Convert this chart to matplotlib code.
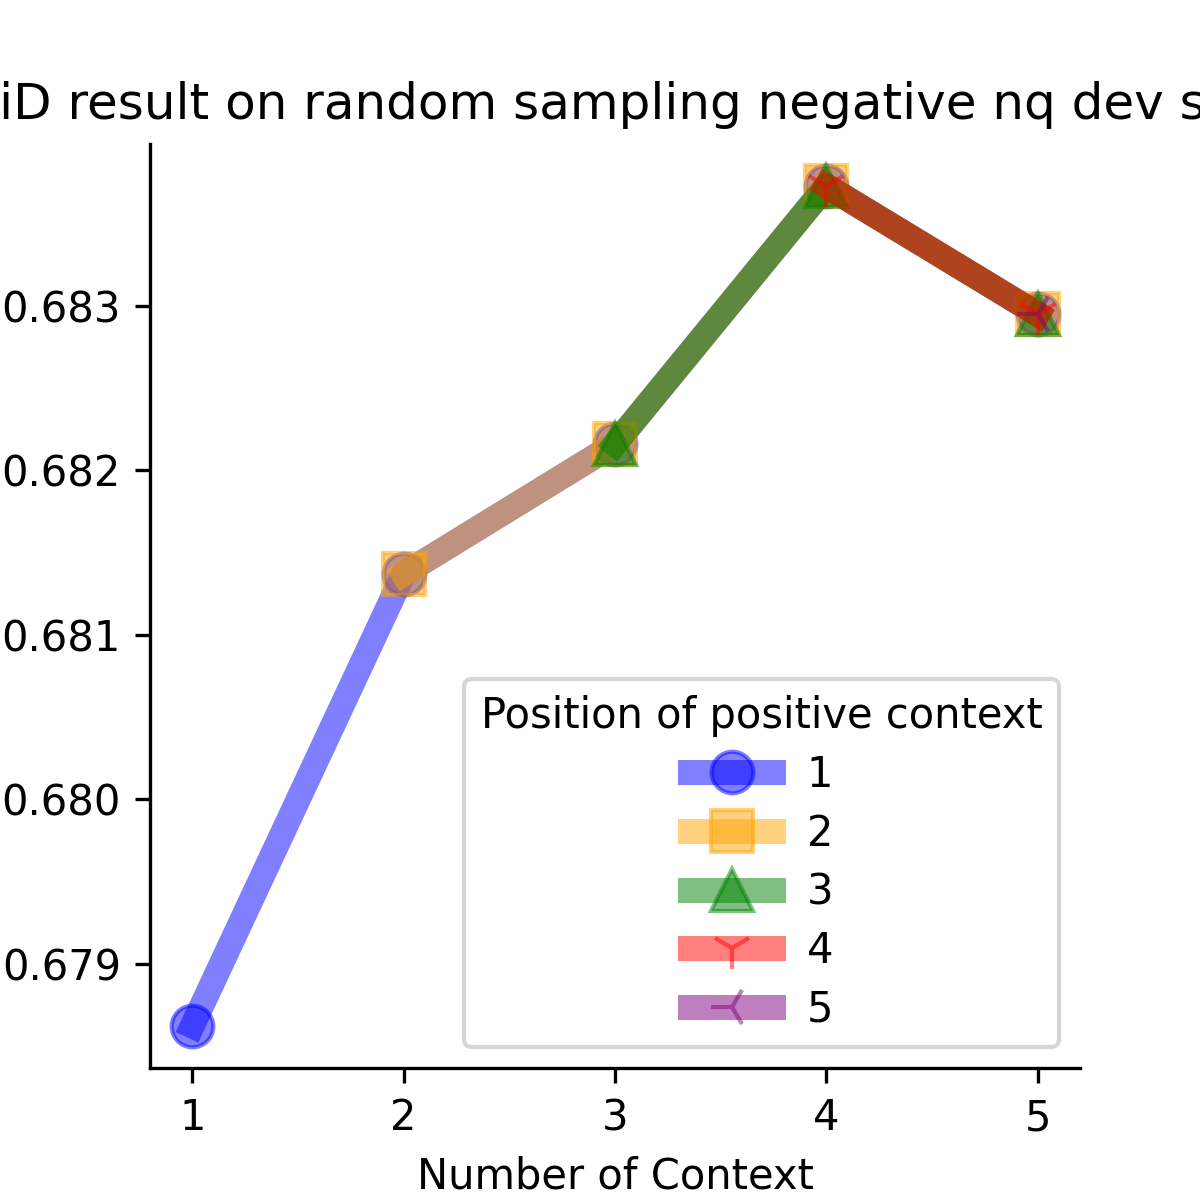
import matplotlib
matplotlib.use("Agg")
import matplotlib.pyplot as plt

n_context = [1, 2, 3, 4, 5]
em_scores = [0.67862, 0.68137, 0.68216, 0.68373, 0.68295]
positions = ["1", "2", "3", "4", "5"]
colors = ["blue", "orange", "green", "red", "purple"]
markers = ["o", "s", "^", "1", "3"]

fig, ax = plt.subplots(figsize=(4, 4), dpi=300)
for i, pos in enumerate(positions):
    # position k only exists when there are at least k contexts
    xs = n_context[i:]
    ys = em_scores[i:]
    ax.plot(xs, ys, color=colors[i], marker=markers[i], markersize=10,
            linewidth=6, alpha=0.5, label=pos)

ax.set_xticks(n_context)
ax.set_xlabel("Number of Context")
ax.set_title("FiD result on random sampling negative nq dev set")
ax.spines["top"].set_visible(False)
ax.spines["right"].set_visible(False)
ax.legend(title="Position of positive context", loc="lower right", labelspacing=0.4)
plt.savefig("out.png")
